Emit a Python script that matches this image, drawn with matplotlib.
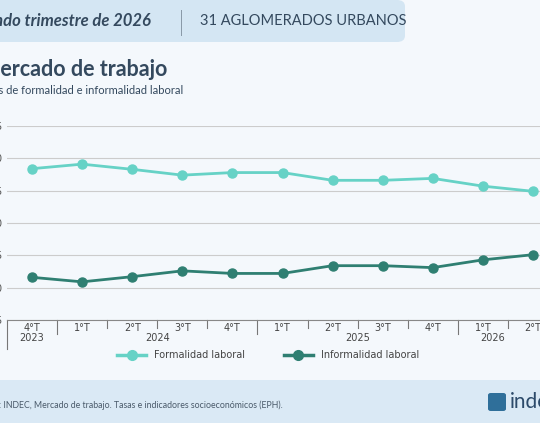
import matplotlib.pyplot as plt
from matplotlib.patches import FancyBboxPatch, Rectangle
from matplotlib.lines import Line2D

quarters = ["4°T", "1°T", "2°T", "3°T", "4°T", "1°T", "2°T", "3°T", "4°T", "1°T", "2°T"]
years = ["2023", "2024", "2025", "2026"]
year_pos = [0, 2.5, 6.5, 9.2]
separators = [0.5, 4.5, 8.5]
formalidad = [58.4, 59.1, 58.3, 57.4, 57.8, 57.8, 56.6, 56.6, 56.9, 55.7, 54.9]
informalidad = [41.6, 40.9, 41.7, 42.6, 42.2, 42.2, 43.4, 43.4, 43.1, 44.3, 45.1]
yticks = [35, 40, 45, 50, 55, 60, 65]

W, H = 540, 423
fig = plt.figure(figsize=(W/100, H/100), dpi=100)
fig.patch.set_facecolor("#f4f8fc")

def fx(px): return px / W
def fy(py): return 1 - py / H

# header band
fig.patches.append(FancyBboxPatch((fx(-20), fy(42)), fx(425), 42/H,
    boxstyle="round,pad=0,rounding_size=0.015", transform=fig.transFigure,
    facecolor="#d4e6f3", edgecolor="none", zorder=0))
fig.text(fx(-40), fy(21), "Segundo trimestre de 2026", fontsize=12, fontstyle="italic",
         fontweight="bold", color="#34495e", va="center", family="Lato")
fig.patches.append(Rectangle((fx(181), fy(36)), fx(1.2), 26/H, transform=fig.transFigure,
    facecolor="#8a9aa8", edgecolor="none"))
fig.text(fx(200), fy(21), "31 AGLOMERADOS URBANOS", fontsize=10.5, color="#34495e",
         va="center", family="Lato")

fig.text(fx(-20), fy(70), "Mercado de trabajo", fontsize=15.5, fontweight="bold",
         color="#34495e", va="center", family="Lato")
fig.text(fx(-24), fy(90), "Tasas de formalidad e informalidad laboral", fontsize=8,
         color="#34495e", va="center", family="Lato")

# footer band
fig.patches.append(Rectangle((0, 0), 1, fy(380), transform=fig.transFigure,
    facecolor="#dae9f5", edgecolor="none", zorder=0))
fig.text(fx(-28), fy(405), "Fuente: INDEC, Mercado de trabajo. Tasas e indicadores socioeconómicos (EPH).",
         fontsize=6.3, color="#4a5a6a", va="center", family="Lato")
fig.text(fx(510), fy(402), "indec", fontsize=15, color="#2c4a6a", va="center", family="Lato")
fig.patches.append(FancyBboxPatch((fx(488), fy(411)), fx(18), 18/H,
    boxstyle="round,pad=0,rounding_size=0.005", transform=fig.transFigure,
    facecolor="#2f6f9a", edgecolor="none"))

# axes
step = 50.1
left_px = 32 - 0.5 * step
ax = fig.add_axes([fx(left_px), fy(320), fx(11 * step), (320 - 126) / H])
ax.set_facecolor("none")
ax.set_xlim(-0.5, 10.5)
ax.set_ylim(35, 65)
ax.set_yticks(yticks)
ax.set_yticklabels([str(v) for v in yticks], fontsize=7.5, color="#555")
ax.tick_params(axis="y", length=0, pad=3)
ax.grid(axis="y", color="#cccccc", lw=0.8)
for s in ["top", "right", "left"]:
    ax.spines[s].set_visible(False)
ax.spines["bottom"].set_color("#888")
ax.set_xticks(range(len(quarters)))
ax.set_xticklabels(quarters, fontsize=7, color="#444")
ax.tick_params(axis="x", length=0, pad=2)
for i in range(len(quarters) - 1):
    x = i + 0.5
    ln = 0.07 if x in separators else 0.04
    ax.plot([x, x], [0, -ln], transform=ax.get_xaxis_transform(), color="#777",
             lw=0.8, clip_on=False)
ax.plot([-0.5, -0.5], [0, -0.15], transform=ax.get_xaxis_transform(), color="#777",
        lw=0.8, clip_on=False)
for y, p in zip(years, year_pos):
    ax.text(p, -0.065, y, transform=ax.get_xaxis_transform(), ha="center", va="top",
            fontsize=7, color="#444")

c1, c2 = "#66d2c6", "#2f7f72"
ax.plot(range(11), formalidad, color=c1, lw=2, marker="o", ms=6.5)
ax.plot(range(11), informalidad, color=c2, lw=2, marker="o", ms=6.5)

handles = [Line2D([], [], color=c1, lw=2.5, marker="o", ms=7),
           Line2D([], [], color=c2, lw=2.5, marker="o", ms=7)]
fig.legend(handles, ["Formalidad laboral", "Informalidad laboral"], loc="center",
           bbox_to_anchor=(fx(268), fy(355)), ncol=2, frameon=False, fontsize=7,
           columnspacing=4, handlelength=3, labelcolor="#444")

fig.savefig("out.png", dpi=100, facecolor=fig.get_facecolor())
